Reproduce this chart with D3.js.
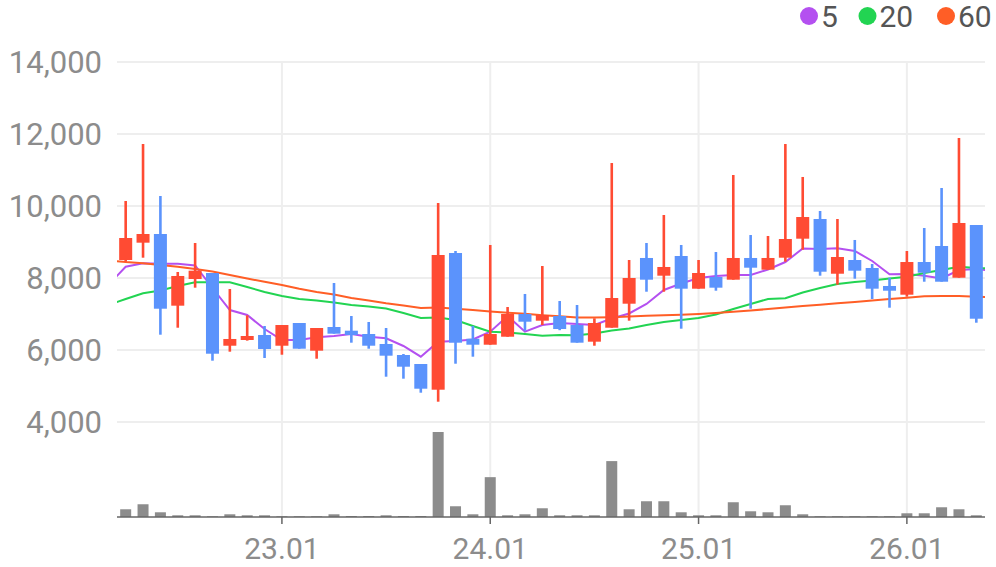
<!DOCTYPE html>
<html>
<head>
<meta charset="utf-8">
<script src="https://cdn.jsdelivr.net/npm/d3@7/dist/d3.min.js"></script>
<style>
  body { margin: 0; background: #fff; }
  svg { display: block; font-family: Roboto, "Noto Sans", sans-serif; }
</style>
</head>
<body>
<div id="chart"></div>
<script>
// monthly candles, 22.04 .. 26.05
const months = [
  "22.04","22.05","22.06","22.07","22.08","22.09","22.10","22.11","22.12",
  "23.01","23.02","23.03","23.04","23.05","23.06","23.07","23.08","23.09","23.10","23.11","23.12",
  "24.01","24.02","24.03","24.04","24.05","24.06","24.07","24.08","24.09","24.10","24.11","24.12",
  "25.01","25.02","25.03","25.04","25.05","25.06","25.07","25.08","25.09","25.10","25.11","25.12",
  "26.01","26.02","26.03","26.04","26.05"
];
const openP  = [8500,8981,9222,7231,7972,8139,6119,6278,6417,6119,6750,5981,6639,6536,6444,6167,5861,5611,4897,8694,6314,6147,6369,7000,6814,6944,6694,6231,6619,7286,8556,8064,8611,7703,8028,7953,8556,8231,8564,9092,9639,8119,8500,8278,7778,7536,8444,8889,8008,9472];
const highP  = [10139,11722,10278,8167,8972,8139,7694,6964,6667,6694,6750,6611,7861,6944,6778,6611,5889,5611,10083,8750,6667,8917,7194,7556,8333,7361,7250,6880,11194,8500,8972,9750,8917,8500,8722,10861,9194,9167,11722,10806,9861,9639,9056,8389,8008,8750,9389,10500,11889,9472];
const lowP   = [8450,8564,6425,6619,7731,5703,5953,6260,5778,5869,6036,5758,6453,6203,6036,5258,5203,4814,4564,5619,5814,6147,6369,6536,6694,6550,6203,6119,6619,6814,7619,7619,6592,7703,7647,7953,7147,8231,8453,8786,8064,7814,7981,7417,7175,7481,7897,7897,8008,6758];
const closeP = [9111,9222,7147,8056,8203,5897,6306,6389,6028,6694,6036,6611,6453,6417,6119,5842,5536,4925,8639,6203,6147,6444,7000,6786,6972,6583,6203,6750,7444,8000,7953,8306,7703,8139,7731,8556,8286,8556,9083,9694,8175,8583,8203,7703,7647,8444,8147,7897,9528,6869];
const volume = [77,127,47,17,17,7,27,17,17,7,7,7,27,10,10,17,10,10,847,107,27,397,17,27,87,17,17,17,557,77,157,157,47,17,17,147,57,47,117,27,7,7,7,7,7,37,37,97,77,17];

// moving averages: one value for the month before the first candle,
// one per candle, one for the month after the last candle
const ma5  = [7806,8314,8408,8397,8397,8347,7722,7111,6972,6583,6278,6278,6352,6389,6444,6370,6324,6111,5814,6231,6250,6292,6509,6944,6509,6694,6750,6722,6694,6875,7014,7278,7667,7847,8000,8056,8083,8083,8236,8444,8819,8806,8825,8750,8472,8102,8111,8064,7986,8222,8250,8194];
const ma20 = [7250,7417,7574,7652,7778,7880,7880,7880,7750,7611,7500,7417,7375,7319,7250,7208,7152,7027,6889,6903,6833,6666,6509,6485,6444,6397,6417,6409,6458,6541,6597,6694,6777,6833,6889,6986,7138,7278,7417,7436,7597,7722,7833,7889,7930,7986,8036,8139,8222,8314,8278,8264];
const ma60 = [8491,8444,8408,8361,8311,8250,8180,8083,7986,7894,7805,7702,7611,7541,7444,7375,7299,7236,7166,7180,7147,7111,7069,7036,7005,6966,6936,6902,6902,6911,6930,6949,6963,6980,7000,7027,7063,7097,7138,7180,7222,7258,7297,7333,7374,7416,7452,7491,7499,7499,7480,7467];

const yTicks = [4000, 6000, 8000, 10000, 12000, 14000];
const xTickMonths = ["23.01", "24.01", "25.01", "26.01"];
const legendItems = [
  { name: "5",  color: "#b450f0", data: ma5 },
  { name: "20", color: "#22d452", data: ma20 },
  { name: "60", color: "#ff5e26", data: ma60 }
];

const W = 996, H = 567;
const plotL = 117, plotR = 985, plotT = 62, volBase = 517, volTop = 432;
const upColor = "#ff4b33", downColor = "#5b93fc";

const svg = d3.select("#chart").append("svg")
  .attr("width", W).attr("height", H);

const x = d3.scaleBand().domain(months).range([plotL, plotR])
  .paddingInner(0.25).paddingOuter(0.125);
const bw = x.bandwidth();
const cx = m => x(m) + bw / 2;

const y = d3.scaleLinear().domain([4000, 14000]).range([422, plotT]);
const yVol = d3.scaleLinear().domain([0, d3.max(volume)]).range([volBase, volTop]);

svg.append("defs").append("clipPath").attr("id", "plot")
  .append("rect").attr("x", plotL).attr("y", 0)
  .attr("width", plotR - plotL).attr("height", volBase);

// grid
svg.append("g").selectAll("line").data(yTicks).join("line")
  .attr("x1", plotL).attr("x2", plotR)
  .attr("y1", d => y(d)).attr("y2", d => y(d))
  .attr("stroke", "#eeeeee").attr("stroke-width", 2);
svg.append("g").selectAll("line").data(xTickMonths).join("line")
  .attr("x1", d => cx(d)).attr("x2", d => cx(d))
  .attr("y1", plotT).attr("y2", volBase)
  .attr("stroke", "#eeeeee").attr("stroke-width", 2);

// y labels
svg.append("g").selectAll("text").data(yTicks).join("text")
  .attr("x", 102).attr("y", d => y(d)).attr("dy", "0.36em")
  .attr("text-anchor", "end")
  .attr("font-size", 31).attr("fill", "#8c8c8c")
  .text(d => d3.format(",")(d));

// volume
svg.append("g").selectAll("rect").data(months).join("rect")
  .attr("x", d => cx(d) - 5.5)
  .attr("width", 11)
  .attr("y", (d, i) => yVol(volume[i]))
  .attr("height", (d, i) => volBase - yVol(volume[i]))
  .attr("fill", "#8c8c8c");

// moving average lines
const step = x.step();
const maX = i => cx(months[0]) + (i - 1) * step;
const line = d3.line().x((d, i) => maX(i)).y(d => y(d));
svg.append("g").attr("clip-path", "url(#plot)")
  .selectAll("path").data(legendItems).join("path")
  .attr("d", d => line(d.data))
  .attr("fill", "none")
  .attr("stroke", d => d.color)
  .attr("stroke-width", 2);

// candles
const candle = svg.append("g").selectAll("g").data(months).join("g");
const col = i => closeP[i] >= openP[i] ? upColor : downColor;
candle.append("rect")
  .attr("x", d => cx(d) - 1.3).attr("width", 2.6)
  .attr("y", (d, i) => y(highP[i]))
  .attr("height", (d, i) => y(lowP[i]) - y(highP[i]))
  .attr("fill", (d, i) => col(i));
candle.append("rect")
  .attr("x", d => x(d)).attr("width", bw)
  .attr("y", (d, i) => y(Math.max(openP[i], closeP[i])))
  .attr("height", (d, i) => Math.max(1, Math.abs(y(openP[i]) - y(closeP[i]))))
  .attr("fill", (d, i) => col(i));

// x axis
svg.append("line")
  .attr("x1", plotL).attr("x2", plotR)
  .attr("y1", volBase).attr("y2", volBase)
  .attr("stroke", "#666").attr("stroke-width", 1.5);
const xt = svg.append("g").selectAll("g").data(xTickMonths).join("g")
  .attr("transform", d => `translate(${cx(d)},${volBase})`);
xt.append("line").attr("y2", 7).attr("stroke", "#666").attr("stroke-width", 1.5);
xt.append("text").attr("y", 42).attr("text-anchor", "middle")
  .attr("font-size", 30).attr("fill", "#8c8c8c")
  .text(d => d);

// legend
const legendX = [809, 867.5, 946];
const lg = svg.append("g").selectAll("g").data(legendItems).join("g")
  .attr("transform", (d, i) => `translate(${legendX[i]},16)`);
lg.append("circle").attr("r", 9).attr("fill", d => d.color);
lg.append("text").attr("x", 12).attr("y", 10.5)
  .attr("font-size", 30).attr("fill", "#555")
  .text(d => d.name);
</script>
</body>
</html>
